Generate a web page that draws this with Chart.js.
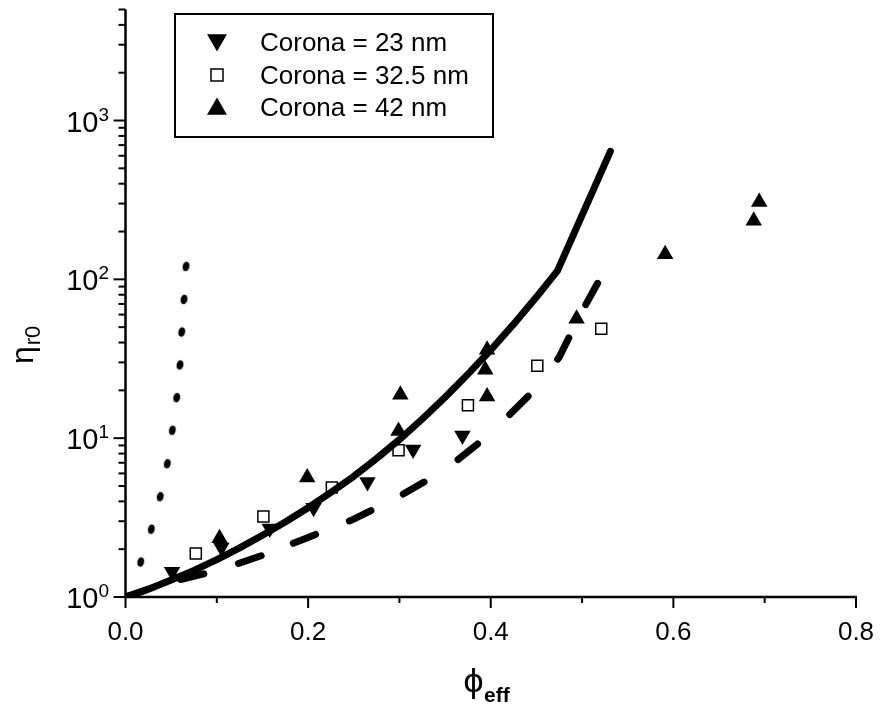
<!DOCTYPE html>
<html>
<head>
<meta charset="utf-8">
<script src="https://cdn.jsdelivr.net/npm/chart.js@4.4.0/dist/chart.umd.min.js"></script>
<style>
  body { margin: 0; background: #fff; }
  #wrap { width: 881px; height: 709px; }
</style>
</head>
<body>
<div id="wrap"><canvas id="chart" width="881" height="709"></canvas></div>
<script>
// model curves (phi_eff, eta_r0)
const solidPhi = [0, 0.025, 0.05, 0.075, 0.1, 0.125, 0.15, 0.175, 0.2, 0.225, 0.25, 0.275, 0.3,
                  0.325, 0.35, 0.375, 0.4, 0.425, 0.45, 0.473, 0.531];
const solidEta = [1, 1.12, 1.28, 1.47, 1.72, 2.04, 2.45, 2.97, 3.65, 4.56, 5.75, 7.45, 9.8,
                  13.2, 18.1, 25.3, 35.9, 52.2, 77.3, 113, 640];

const dashPhi = [0, 0.05, 0.1, 0.15, 0.2, 0.25, 0.3, 0.35, 0.4, 0.45, 0.475, 0.5, 0.517];
const dashEta = [1, 1.247, 1.462, 1.83, 2.37, 3.09, 4.31, 6.31, 10.7, 20.7, 32.4, 63, 94.4];

const dotPhi = [0.0167, 0.0283, 0.038, 0.0458, 0.0513, 0.0561, 0.0597, 0.0616, 0.0641, 0.0663];
const dotEta = [1.66, 2.67, 4.28, 6.9, 11.2, 18, 28.9, 46.6, 74.7, 120.5];

// measured points
const corona23Phi = [0.051, 0.105, 0.158, 0.206, 0.265, 0.315, 0.369];
const corona23Eta = [1.44, 2.05, 2.70, 3.65, 5.3, 8.5, 10.4];

const corona32Phi = [0.077, 0.151, 0.226, 0.299, 0.375, 0.451, 0.521];
const corona32Eta = [1.88, 3.21, 4.89, 8.4, 16.1, 28.6, 48.9];

const corona42Phi = [0.103, 0.199, 0.299, 0.301, 0.394, 0.396, 0.396, 0.494, 0.591, 0.688, 0.694];
const corona42Eta = [2.34, 5.65, 11.1, 18.8, 27, 18.3, 36, 56.5, 144, 234, 307];

const legendLabels = ['Corona = 23 nm', 'Corona = 32.5 nm', 'Corona = 42 nm'];

// ticks
const xMajor = [0, 0.2, 0.4, 0.6, 0.8];
const xTickLabels = ['0.0', '0.2', '0.4', '0.6', '0.8'];
const xMinor = [0.1, 0.3, 0.5, 0.7];
const yExponents = [0, 1, 2, 3];

const FONT = "'Liberation Sans', Arial, sans-serif";

function pts(xs, ys) {
    return xs.map((v, i) => ({ x: v, y: ys[i] }));
}

// small oval used for the dotted curve
const dotImg = document.createElement('canvas');
dotImg.width = 8; dotImg.height = 11;
(function () {
    const c = dotImg.getContext('2d');
    c.fillStyle = '#000';
    c.beginPath();
    c.ellipse(4, 5.5, 3.4, 4.8, 0, 0, Math.PI * 2);
    c.fill();
})();

// draws the triangle/square markers in the legend
function marker(ctx, kind, cx, cy, r) {
    ctx.beginPath();
    if (kind === 'rect') {
        const s = r * Math.SQRT1_2;
        ctx.rect(cx - s, cy - s, 2 * s, 2 * s);
        ctx.fillStyle = '#fff';
        ctx.fill();
        ctx.lineWidth = 1.5;
        ctx.stroke();
        return;
    }
    const d = kind === 'down' ? -1 : 1;
    for (let k = 0; k < 3; k++) {
        const a = k * 2 * Math.PI / 3;
        const px = cx + Math.sin(a) * r;
        const py = cy - d * Math.cos(a) * r;
        k === 0 ? ctx.moveTo(px, py) : ctx.lineTo(px, py);
    }
    ctx.closePath();
    ctx.fillStyle = '#000';
    ctx.fill();
}

const axesPlugin = {
    id: 'axesPlugin',
    afterDraw(chart) {
        const { ctx, chartArea: a } = chart;
        const x = chart.scales.x, y = chart.scales.y;
        ctx.save();
        ctx.strokeStyle = '#000';
        ctx.fillStyle = '#000';
        ctx.lineWidth = 2.5;
        ctx.lineCap = 'butt';

        // axis lines (left + bottom only)
        ctx.beginPath();
        ctx.moveTo(a.left, a.top);
        ctx.lineTo(a.left, a.bottom);
        ctx.lineTo(a.right + 1, a.bottom);
        ctx.stroke();

        // x ticks
        ctx.lineWidth = 2;
        xMajor.forEach(v => {
            const px = x.getPixelForValue(v);
            ctx.beginPath(); ctx.moveTo(px, a.bottom); ctx.lineTo(px, a.bottom + 11); ctx.stroke();
        });
        xMinor.forEach(v => {
            const px = x.getPixelForValue(v);
            ctx.beginPath(); ctx.moveTo(px, a.bottom); ctx.lineTo(px, a.bottom + 6); ctx.stroke();
        });
        ctx.font = '26px ' + FONT;
        ctx.textAlign = 'center';
        ctx.textBaseline = 'alphabetic';
        xMajor.forEach((v, i) => {
            ctx.fillText(xTickLabels[i], x.getPixelForValue(v), a.bottom + 43);
        });

        // y ticks (log)
        yExponents.forEach(e => {
            for (let m = 1; m <= 9; m++) {
                const val = m * Math.pow(10, e);
                if (val > y.max) break;
                const py = y.getPixelForValue(val);
                const len = m === 1 ? 12 : 7;
                ctx.beginPath(); ctx.moveTo(a.left - len, py); ctx.lineTo(a.left, py); ctx.stroke();
            }
            const py = y.getPixelForValue(Math.pow(10, e));
            ctx.textAlign = 'right';
            ctx.font = '19px ' + FONT;
            const expText = String(e);
            const ew = ctx.measureText(expText).width;
            ctx.fillText(expText, 109, py);
            ctx.font = '29px ' + FONT;
            ctx.fillText('10', 109 - ew, py + 11);
        });

        // x title: phi_eff
        ctx.textAlign = 'left';
        ctx.font = "32px 'DejaVu Sans', sans-serif";
        ctx.fillText('ϕ', 463, 692);
        const pw = ctx.measureText('ϕ').width;
        ctx.font = 'bold 21px ' + FONT;
        ctx.fillText('eff', 463 + pw, 702);

        // y title: eta_r0 (rotated)
        ctx.save();
        ctx.translate(33, 364);
        ctx.rotate(-Math.PI / 2);
        ctx.font = '32px ' + FONT;
        ctx.fillText('η', 0, 0);
        const hw = ctx.measureText('η').width;
        ctx.font = '22px ' + FONT;
        ctx.fillText('r0', hw + 1, 7);
        ctx.restore();

        // legend box
        ctx.lineWidth = 2;
        ctx.strokeRect(175, 14, 318, 123);
        const rows = [42, 75, 107];
        const kinds = ['down', 'rect', 'up'];
        const sizes = [11.5, 8.5, 11.5];
        ctx.font = '26px ' + FONT;
        ctx.textAlign = 'left';
        rows.forEach((ry, i) => {
            ctx.strokeStyle = '#000';
            marker(ctx, kinds[i], 217, ry + (kinds[i] === 'up' ? 2 : kinds[i] === 'down' ? -2 : 0), sizes[i]);
            ctx.fillStyle = '#000';
            ctx.fillText(legendLabels[i], 260, ry + 9);
        });
        ctx.restore();
    }
};

new Chart(document.getElementById('chart'), {
    type: 'scatter',
    data: {
        datasets: [
            {
                label: 'solid', data: pts(solidPhi, solidEta), showLine: true,
                borderColor: '#000', borderWidth: 7, pointRadius: 0, tension: 0,
                borderJoinStyle: 'round', borderCapStyle: 'round', order: 0
            },
            {
                label: 'dashed', data: pts(dashPhi, dashEta), showLine: true,
                borderColor: '#000', borderWidth: 7, pointRadius: 0, tension: 0,
                borderDash: [24, 36.2, 24, 36.2, 24, 34.5, 24, 36.3, 24, 36.3, 24, 40.9,
                             25, 43.6, 26, 47.5, 24, 37.4, 30, 100],
                borderDashOffset: 2.5, borderCapStyle: 'round', order: 0
            },
            {
                label: 'dotted', data: pts(dotPhi, dotEta), showLine: false,
                pointStyle: dotImg, rotation: 12, order: 0
            },
            {
                label: legendLabels[0], data: pts(corona23Phi, corona23Eta),
                pointStyle: 'triangle', rotation: 180, pointRadius: 9.5,
                backgroundColor: '#000', borderColor: '#000', borderWidth: 0, order: 1
            },
            {
                label: legendLabels[1], data: pts(corona32Phi, corona32Eta),
                pointStyle: 'rect', pointRadius: 7.8,
                backgroundColor: '#fff', borderColor: '#000', borderWidth: 1.5, order: 1
            },
            {
                label: legendLabels[2], data: pts(corona42Phi, corona42Eta),
                pointStyle: 'triangle', pointRadius: 9.5,
                backgroundColor: '#000', borderColor: '#000', borderWidth: 0, order: 1
            }
        ]
    },
    options: {
        responsive: false,
        animation: false,
        layout: { padding: { top: 5, right: 25, left: 0, bottom: 0 } },
        plugins: { legend: { display: false }, tooltip: { enabled: false } },
        scales: {
            x: {
                type: 'linear', min: 0, max: 0.8,
                grid: { display: false }, border: { display: false },
                ticks: { display: false },
                afterFit: s => { s.height = 112; }
            },
            y: {
                type: 'logarithmic', min: 1, max: 5000,
                grid: { display: false }, border: { display: false },
                ticks: { display: false },
                afterFit: s => { s.width = 125.5; }
            }
        }
    },
    plugins: [axesPlugin]
});
</script>
</body>
</html>
